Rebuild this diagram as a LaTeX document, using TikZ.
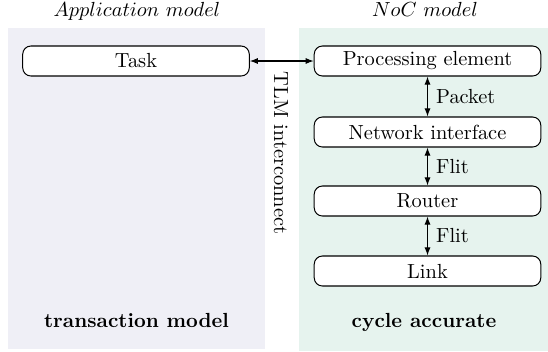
\documentclass[tikz,border=0pt]{standalone}
\usetikzlibrary{arrows.meta}
\definecolor{appbg}{RGB}{239,239,246}
\definecolor{nocbg}{RGB}{230,243,238}
\begin{document}
\begin{tikzpicture}[x=0.49pt,y=-0.49pt,
  block/.style={draw, rounded corners=4pt, fill=white, line width=0.5pt,
    minimum width=111pt, minimum height=14.7pt, inner sep=0pt},
  conn/.style={{Latex[length=4pt,width=3pt]}-{Latex[length=4pt,width=3pt]}, line width=0.5pt},
  lbl/.style={right, inner sep=4pt},
  heading/.style={anchor=base},
  footer/.style={anchor=base, font=\bfseries}]
  \useasboundingbox (0,0) rectangle (548,351);

  % background panels
  \fill[appbg] (8,28) rectangle (265,349);
  \fill[nocbg] (299,28) rectangle (548,351);

  % panel headings and footers
  \node[heading] (apptitle) at (137,16) {$Application\ model$};
  \node[heading] (noctitle) at (425,16) {$NoC\ model$};
  \node[footer] (appfoot) at (136.5,327) {transaction model};
  \node[footer] (nocfoot) at (424,327) {cycle accurate};

  % blocks
  \node[block] (task) at (136,61) {Task};
  \node[block] (pe) at (427.5,61) {Processing element};
  \node[block] (ni) at (427.5,132) {Network interface};
  \node[block] (router) at (427.5,201) {Router};
  \node[block] (link) at (427.5,271) {Link};

  % connections
  \draw[conn] (task) -- (pe);
  \node[rotate=-90] (tlm) at (281,153) {TLM interconnect};
  \draw[conn] (pe) -- node[lbl] {Packet} (ni);
  \draw[conn] (ni) -- node[lbl] {Flit} (router);
  \draw[conn] (router) -- node[lbl] {Flit} (link);
\end{tikzpicture}
\end{document}
